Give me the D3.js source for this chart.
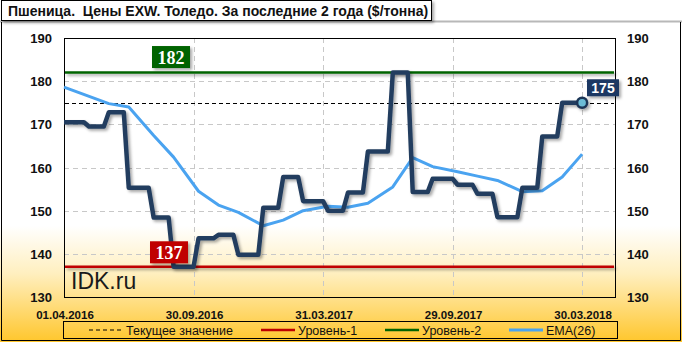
<!DOCTYPE html>
<html>
<head>
<meta charset="utf-8">
<script src="https://cdn.jsdelivr.net/npm/d3@7"></script>
<style>
  body { margin: 0; background: #fff; }
  svg text { font-family: "Liberation Sans", Arial, sans-serif; }
</style>
</head>
<body>
<div id="chart"></div>
<script>
// weekly prices, $/t
const prices = [
  170.5, 170.5, 170.5, 170.5, 170.5,
  169.5, 169.5, 169.5, 169.5,
  172.8, 172.8, 172.8, 172.8,
  155.3, 155.3, 155.3, 155.3, 155.3,
  148.4, 148.4, 148.4, 148.4,
  137.0, 137.0, 137.0, 137.0, 137.0,
  143.6, 143.6, 143.6, 143.6,
  144.4, 144.4, 144.4, 144.4,
  139.8, 139.8, 139.8, 139.8, 139.8,
  150.7, 150.7, 150.7, 150.7,
  157.8, 157.8, 157.8, 157.8,
  152.2, 152.2, 152.2, 152.2, 152.2,
  150.0, 150.0, 150.0, 150.0,
  154.2, 154.2, 154.2, 154.2,
  163.7, 163.7, 163.7, 163.7, 163.7,
  182.0, 182.0, 182.0, 182.0,
  154.3, 154.3, 154.3, 154.3,
  157.4, 157.4, 157.4, 157.4, 157.4,
  156.0, 156.0, 156.0, 156.0,
  153.9, 153.9, 153.9, 153.9,
  148.5, 148.5, 148.5, 148.5, 148.5,
  155.3, 155.3, 155.3, 155.3,
  167.2, 167.2, 167.2, 167.2,
  175.0, 175.0, 175.0, 175.0, 175.0
];
// EMA(26) vertices: week index and value
const emaWeek = [0, 9, 13, 18, 22, 27, 31, 35, 40, 44, 48, 53, 57, 61, 66, 70, 74, 79, 83, 87, 92, 96, 100, 104];
const emaVal  = [178.6, 174.8, 174.0, 167.4, 162.4, 154.5, 151.3, 149.6, 146.5, 147.8, 150.0, 151.0,
                 150.8, 151.7, 155.5, 162.3, 160.2, 159.0, 158.0, 157.0, 154.4, 154.6, 157.8, 163.1];
const tickWeek  = [0, 26, 52, 78, 104];
const tickLabel = ["01.04.2016", "30.09.2016", "31.03.2017", "29.09.2017", "30.03.2018"];
const yTicks = [130, 140, 150, 160, 170, 180, 190];
const level1 = 137, level2 = 182, current = 175;

const W = 682, H = 342;
const L = 64, R = 615, T = 38, B = 297;

const svg = d3.select("#chart").append("svg")
  .attr("width", W).attr("height", H);

const defs = svg.append("defs");
const grad = defs.append("linearGradient").attr("id", "bg")
  .attr("x1", 0).attr("y1", 0).attr("x2", 0).attr("y2", 1);
grad.append("stop").attr("offset", "0.66").attr("stop-color", "#ffffff");
grad.append("stop").attr("offset", "0.80").attr("stop-color", "#ffefbf");
grad.append("stop").attr("offset", "1").attr("stop-color", "#ffc62c");

// user-space region so flat lines keep their shadow
const shadow = defs.append("filter").attr("id", "sh")
  .attr("filterUnits", "userSpaceOnUse")
  .attr("x", 0).attr("y", 0).attr("width", W).attr("height", H);
shadow.append("feDropShadow").attr("dx", 2).attr("dy", 2)
  .attr("stdDeviation", 1.4).attr("flood-color", "#000").attr("flood-opacity", 0.35);

// background
svg.append("rect").attr("width", W).attr("height", H).attr("fill", "url(#bg)");

const x = d3.scaleLinear().domain([0, 110.6]).range([L, R]);
const y = d3.scaleLinear().domain([130, 190]).range([B, T]);

// grid
svg.append("g").selectAll("line").data(yTicks.slice(1, -1)).join("line")
  .attr("x1", L).attr("x2", R)
  .attr("y1", d => Math.round(y(d)) + 0.5).attr("y2", d => Math.round(y(d)) + 0.5)
  .attr("stroke", "#c8c8c8").attr("stroke-dasharray", "5,4");
svg.append("g").selectAll("line").data(tickWeek.slice(1)).join("line")
  .attr("x1", d => Math.round(x(d)) + 0.5).attr("x2", d => Math.round(x(d)) + 0.5)
  .attr("y1", T).attr("y2", B)
  .attr("stroke", "#c8c8c8").attr("stroke-dasharray", "5,4");

// plot border
svg.append("rect").attr("x", L + 0.5).attr("y", T + 0.5)
  .attr("width", R - L).attr("height", B - T)
  .attr("fill", "none").attr("stroke", "#000");

// y labels both sides
const yl = svg.append("g").attr("font-size", 13).attr("font-weight", "bold").attr("fill", "#111");
yl.selectAll(".l").data(yTicks).join("text").attr("class", "l")
  .attr("x", 52).attr("y", d => y(d) + 5).attr("text-anchor", "end").text(d => d);
yl.selectAll(".r").data(yTicks).join("text").attr("class", "r")
  .attr("x", 627).attr("y", d => y(d) + 5).text(d => d);

// x labels
svg.append("g").attr("font-size", 11.5).attr("font-weight", "bold").attr("fill", "#111")
  .selectAll("text").data(tickWeek).join("text")
  .attr("x", d => x(d) + 1).attr("y", 319).attr("text-anchor", "middle")
  .text((d, i) => tickLabel[i]);

// levels
const lev = [[level2, "#006400"], [level1, "#c00000"]];
svg.append("g").selectAll("line").data(lev).join("line")
  .attr("x1", L + 1).attr("x2", R - 1)
  .attr("y1", d => y(d[0])).attr("y2", d => y(d[0]))
  .attr("stroke", d => d[1]).attr("stroke-width", 2.5).attr("filter", "url(#sh)");

svg.append("line").attr("x1", L + 1).attr("x2", R - 1)
  .attr("y1", Math.round(y(current)) + 0.5).attr("y2", Math.round(y(current)) + 0.5)
  .attr("stroke", "#000").attr("stroke-dasharray", "4,3");

// watermark
svg.append("text").attr("x", 71).attr("y", 289).attr("font-size", 23)
  .attr("fill", "#1a1a1a").text("IDK.ru");

// EMA
const emaData = emaWeek.map((w, i) => [w, emaVal[i]]);
svg.append("path").datum(emaData)
  .attr("d", d3.line().x(d => x(d[0])).y(d => y(d[1])))
  .attr("fill", "none").attr("stroke", "#4aa3f0").attr("stroke-width", 3)
  .attr("stroke-linejoin", "round");

// price
svg.append("path").datum(prices)
  .attr("d", d3.line().x((d, i) => x(i)).y(d => y(d)))
  .attr("fill", "none").attr("stroke", "#233d5e").attr("stroke-width", 4.5)
  .attr("stroke-linejoin", "round").attr("filter", "url(#sh)");

// last point marker
const last = prices.length - 1;
svg.append("circle").attr("cx", x(last)).attr("cy", y(prices[last])).attr("r", 5)
  .attr("fill", "#6cbcd6").attr("stroke", "#1c3557").attr("stroke-width", 2.5)
  .attr("filter", "url(#sh)");

// value boxes
function tag(cx, cy, w, h, fill, txt, serif, fs) {
  const g = svg.append("g");
  g.append("rect").attr("x", cx - w / 2).attr("y", cy - h / 2).attr("width", w).attr("height", h)
    .attr("fill", fill).attr("filter", "url(#sh)");
  g.append("text").attr("x", cx).attr("y", cy + fs * 0.36).attr("text-anchor", "middle")
    .attr("fill", "#fff").attr("font-weight", "bold").attr("font-size", fs)
    .style("font-family", serif ? "'Liberation Serif', serif" : "'Liberation Sans', sans-serif")
    .text(txt);
}
tag(171, y(level2) - 15.5, 38, 22, "#006400", level2, true, 18);
tag(169, y(level1) - 14.5, 38, 22, "#c00000", level1, true, 18);
tag(603, y(current) - 15, 32, 17, "#1f3864", current, false, 14);

// outer frame
svg.append("line").attr("x1", 0).attr("x2", W).attr("y1", 21.5).attr("y2", 21.5)
  .attr("stroke", "#b8b8b8").attr("stroke-width", 2);
svg.append("path").attr("d", `M1.5,22 V${H - 1.5} H${W - 1.5} V22`)
  .attr("fill", "none").attr("stroke", "#000");

// title box
svg.append("rect").attr("x", 1.5).attr("y", 0.5).attr("width", 430).attr("height", 20)
  .attr("fill", "#fff").attr("stroke", "#000").attr("filter", "url(#sh)");
svg.append("text").attr("x", 8).attr("y", 15.5).attr("font-size", 14).attr("font-weight", "bold")
  .attr("fill", "#111").text("Пшеница.  Цены EXW. Толедо. За последние 2 года ($/тонна)")
  .style("white-space", "pre");

// legend
const lg = svg.append("g");
lg.append("rect").attr("x", 63.5).attr("y", 321.5).attr("width", 554).attr("height", 17)
  .attr("fill", "none").attr("stroke", "#000");
const legItems = [
  { x: 89, label: "Текущее значение", color: "#000", dash: "4,3", w: 1 },
  { x: 261, label: "Уровень-1", color: "#c00000", dash: null, w: 2.5 },
  { x: 385, label: "Уровень-2", color: "#006400", dash: null, w: 2.5 },
  { x: 509, label: "EMA(26)", color: "#4aa3f0", dash: null, w: 3 }
];
legItems.forEach(d => {
  lg.append("line").attr("x1", d.x).attr("x2", d.x + 34).attr("y1", 330).attr("y2", 330)
    .attr("stroke", d.color).attr("stroke-width", d.w).attr("stroke-dasharray", d.dash);
  lg.append("text").attr("x", d.x + 37).attr("y", 334.5).attr("font-size", 12.5)
    .attr("fill", "#111").text(d.label);
});
</script>
</body>
</html>
